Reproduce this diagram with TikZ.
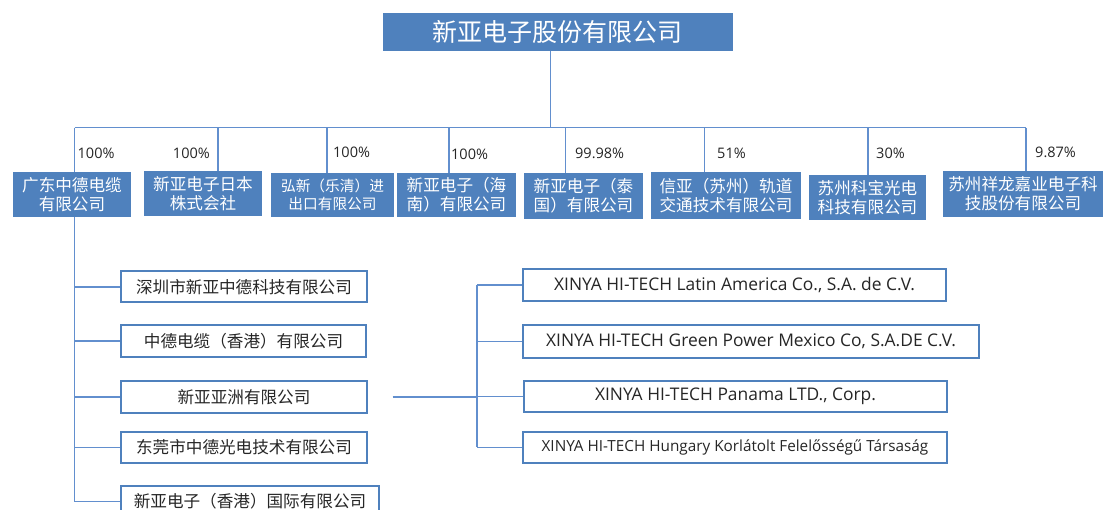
\documentclass[tikz,border=0pt]{standalone}
\usepackage{fontspec}
\setmainfont{Open Sans}
\newfontfamily\cjk{Noto Sans CJK SC}
\definecolor{boxblue}{RGB}{79,129,189}
\definecolor{lineblue}{RGB}{98,143,206}
\definecolor{txt}{RGB}{38,38,38}
\begin{document}
\begin{tikzpicture}[x=1pt,y=-1pt,
  conn/.style={draw=lineblue,line width=1.5pt},
  bluebox/.style={fill=boxblue,text=white,inner sep=0pt,align=center,font=\cjk\fontsize{16.6}{19}\selectfont},
  whitebox/.style={draw=boxblue,line width=2pt,fill=white,text=txt,inner sep=0pt,align=center},
  cnbox/.style={whitebox,font=\cjk\fontsize{16.6}{19}\selectfont},
  enbox/.style={whitebox,font=\fontsize{17.4}{20}\selectfont},
  pct/.style={text=txt,inner sep=0pt,font=\fontsize{14.5}{17}\selectfont}]
\useasboundingbox (0,0) rectangle (1104,510);
\fill[white] (0,0) rectangle (1104,510);

% top
\node[bluebox,minimum width=350,minimum height=38,font=\cjk\fontsize{25}{30}\selectfont] (top) at (557.8,32.3) {新亚电子股份有限公司};

% first row
\node[bluebox,minimum width=118,minimum height=45] (b1) at (72,194.5) {广东中德电缆\\有限公司};
\node[bluebox,minimum width=118,minimum height=45] (b2) at (203,193.5) {新亚电子日本\\株式会社};
\node[bluebox,minimum width=123,minimum height=44,font=\cjk\fontsize{14.7}{18}\selectfont] (b3) at (332.5,195) {弘新（乐清）进\\出口有限公司};
\node[bluebox,minimum width=119,minimum height=44] (b4) at (456.5,195) {新亚电子（海\\南）有限公司};
\node[bluebox,minimum width=119,minimum height=46] (b5) at (583.5,196) {新亚电子（泰\\国）有限公司};
\node[bluebox,minimum width=150,minimum height=47] (b6) at (726,195.5) {信亚（苏州）轨道\\交通技术有限公司};
\node[bluebox,minimum width=117,minimum height=45] (b7) at (867.5,197.5) {苏州科宝光电\\科技有限公司};
\node[bluebox,minimum width=160,minimum height=46] (b8) at (1023,194) {苏州祥龙嘉业电子科\\技股份有限公司};

% bar coordinates
\coordinate (tc) at (550.7,127.7);
\coordinate (c1) at (74.5,127.7);
\coordinate (c2) at (218,127.7);
\coordinate (c3) at (327,127.7);
\coordinate (c4) at (449,127.7);
\coordinate (c5) at (565.4,127.7);
\coordinate (c6) at (704.7,127.7);
\coordinate (c7) at (868,127.7);
\coordinate (c8) at (1026,127.7);

\draw[conn] (top.south -| tc) -- (tc);
\draw[conn] (c1) -- (c8);
\foreach \i in {1,...,8}{\draw[conn] (c\i) -- (c\i |- b\i.north);}

% percentages
\node[pct,anchor=west] (p1) at (77.5,153) {100\%};
\node[pct,anchor=east] (p2) at (210,153) {100\%};
\node[pct,anchor=west] (p3) at (333,152) {100\%};
\node[pct,anchor=west] (p4) at (451,154) {100\%};
\node[pct,anchor=west] (p5) at (575,153) {99.98\%};
\node[pct,anchor=west] (p6) at (717,153) {51\%};
\node[pct,anchor=west] (p7) at (876,153) {30\%};
\node[pct,anchor=west] (p8) at (1035,152) {9.87\%};

% lower left
\node[cnbox,minimum width=246,minimum height=31] (d1) at (244,287) {深圳市新亚中德科技有限公司};
\node[cnbox,minimum width=245,minimum height=32] (d2) at (243.5,341) {中德电缆（香港）有限公司};
\node[cnbox,minimum width=246,minimum height=32] (d3) at (244,397) {新亚亚洲有限公司};
\node[cnbox,minimum width=246,minimum height=31] (d4) at (244,447.5) {东莞市中德光电技术有限公司};
\node[cnbox,minimum width=258,minimum height=31] (d5) at (250,501.5) {新亚电子（香港）国际有限公司};

\draw[conn] (b1.south -| c1) -- (d5.west -| c1) -- (d5.west);
\foreach \i in {1,...,4}{\draw[conn] (d\i.west -| c1) -- (d\i.west);}

% right boxes
\node[enbox,minimum width=423,minimum height=32] (r1) at (734.5,285) {XINYA HI-TECH Latin America Co., S.A. de C.V.};
\node[enbox,minimum width=456,minimum height=33] (r2) at (751,341.5) {XINYA HI-TECH Green Power Mexico Co, S.A.DE C.V.};
\node[enbox,minimum width=423,minimum height=31] (r3) at (735.5,396.5) {XINYA HI-TECH Panama LTD., Corp.};
\node[enbox,minimum width=424,minimum height=31,font=\fontsize{15.3}{18}\selectfont] (r4) at (735,447.5) {XINYA HI-TECH Hungary Korlátolt Felelősségű Társaság};

\coordinate (hub) at (477,397);
\coordinate (aout) at (392.7,397);
\draw[conn] (aout) -- (hub);
\draw[conn] (r1.west -| hub) -- (r4.west -| hub);
\foreach \i in {1,...,4}{\draw[conn] (r\i.west -| hub) -- (r\i.west);}
\end{tikzpicture}
\end{document}
